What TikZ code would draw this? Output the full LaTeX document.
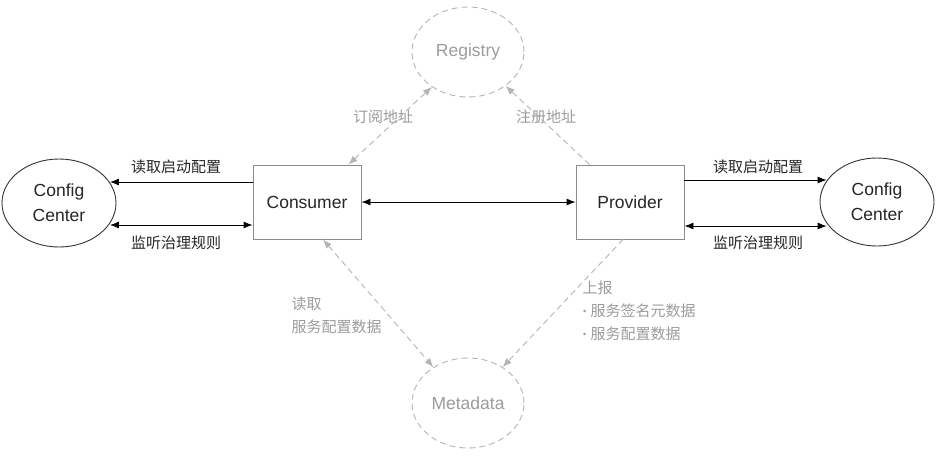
\documentclass[tikz,border=0pt]{standalone}
\usepackage{fontspec}
\setmainfont{Liberation Sans}
\newfontfamily\cjk{Noto Sans CJK SC}
\usetikzlibrary{arrows.meta,shapes.geometric}
\definecolor{dashline}{HTML}{B4B4B4}
\definecolor{dashtext}{HTML}{9C9C9C}
\definecolor{boxline}{HTML}{8C8C8C}
\newcommand{\bul}{{\rmfamily\textbf{·}}\hspace{3pt}}

\begin{document}
\begin{tikzpicture}[x=1pt,y=-1pt,
  every node/.style={font=\fontsize{17.5}{25}\selectfont,text=black!85},
  box/.style={draw=boxline,line width=0.9pt,minimum width=108pt,minimum height=74pt,inner sep=0pt},
  cfgcenter/.style={ellipse,draw=black!80,line width=0.9pt,minimum width=114pt,minimum height=88pt,inner sep=0pt,align=center},
  hub/.style={ellipse,draw=dashline,dash pattern=on 6pt off 4pt,line width=0.9pt,minimum width=112pt,minimum height=90pt,inner sep=0pt,text=dashtext},
  zh/.style={font=\cjk\fontsize{15}{23}\selectfont},
  zhgray/.style={zh,text=dashtext},
  arr/.style={line width=0.9pt,-{Latex[length=9pt,width=7pt]}},
  darr/.style={line width=0.9pt,{Latex[length=9pt,width=7pt]}-{Latex[length=9pt,width=7pt]}},
  garr/.style={dashline,dash pattern=on 6pt off 4pt,line width=0.9pt,-{Latex[length=9pt,width=7pt]}},
  gdarr/.style={dashline,dash pattern=on 6pt off 4pt,line width=0.9pt,{Latex[length=9pt,width=7pt]}-{Latex[length=9pt,width=7pt]}}]
\fill[white] (0,0) rectangle (949,456);
\useasboundingbox (0,0) rectangle (949,456);

\node[cfgcenter] (ccl) at (59,203) {Config\\Center};
\node[box] (cons) at (307,202) {Consumer};
\node[box] (prov) at (630,202) {Provider};
\node[cfgcenter] (ccr) at (877,202) {Config\\Center};
\node[hub] (reg) at (468,52) {Registry};
\node[hub] (meta) at (468,403) {Metadata};

\node[zh] (lread) at (176,167) {读取启动配置};
\node[zh] (lwatch) at (176,243) {监听治理规则};
\node[zh] (rread) at (758,167) {读取启动配置};
\node[zh] (rwatch) at (758,243) {监听治理规则};
\node[zhgray] (subaddr) at (383,117) {订阅地址};
\node[zhgray] (regaddr) at (546,117) {注册地址};
\node[zhgray,align=left,anchor=west] (readmeta) at (288,315) {读取\\服务配置数据};
\node[zhgray,align=left,anchor=west] (report) at (579,311) {上报\\\bul 服务签名元数据\\\bul 服务配置数据};

\draw[arr] ([yshift=20pt]cons.west) -- ([yshift=20pt]cons.west -| ccl.22);
\draw[darr] ([yshift=-23pt]cons.west) -- ([yshift=-23pt]cons.west -| ccl.-22);
\draw[darr] (cons) -- (prov);
\draw[arr] ([yshift=22pt]prov.east) -- ([yshift=22pt]prov.east -| ccr.157);
\draw[darr] ([yshift=-24pt]prov.east) -- ([yshift=-24pt]prov.east -| ccr.203);

\draw[gdarr] ([xshift=-13pt]cons.north east) -- (reg.224);
\draw[garr] ([xshift=14pt]prov.north west) -- (reg.318);
\draw[gdarr] ([xshift=16pt]cons.south) -- (meta.134);
\draw[garr] ([xshift=-7pt]prov.south) -- (meta.46);
\end{tikzpicture}
\end{document}
